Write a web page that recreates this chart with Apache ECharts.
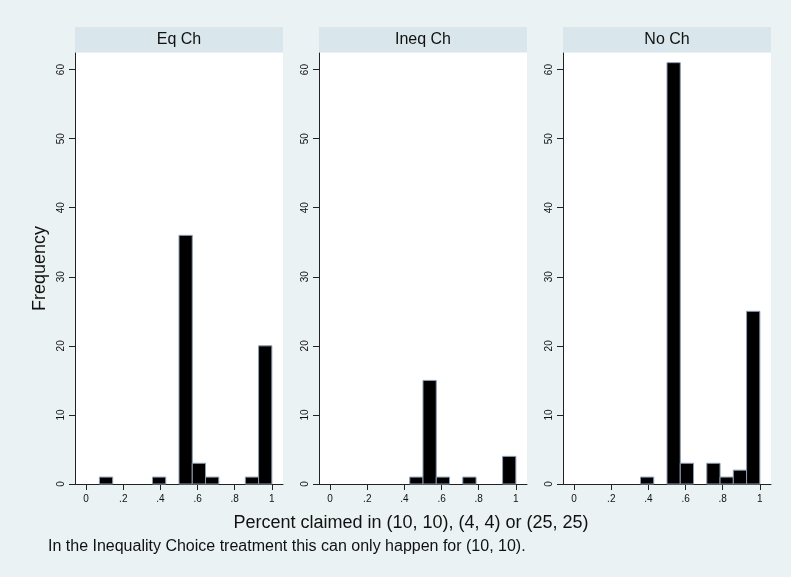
<!DOCTYPE html>
<html>
<head>
<meta charset="utf-8">
<script src="https://cdn.jsdelivr.net/npm/echarts@6/dist/echarts.min.js"></script>
<style>
  html, body { margin: 0; padding: 0; background: #EAF2F3; }
  #chart { width: 791px; height: 577px; }
</style>
</head>
<body>
<div id="chart"></div>
<script>
// histogram counts, 14 bins of width 1/14 on [0, 1]
var panelTitles = ['Eq Ch', 'Ineq Ch', 'No Ch'];
var eqCounts   = [0, 1, 0, 0, 0, 1, 0, 36, 3, 1, 0, 0, 1, 20];
var ineqCounts = [0, 0, 0, 0, 0, 0, 1, 15, 1, 0, 1, 0, 0, 4];
var noCounts   = [0, 0, 0, 0, 0, 1, 0, 61, 3, 0, 3, 1, 2, 25];
var xTickValues = [0, 0.2, 0.4, 0.6, 0.8, 1];
var xTickLabels = ['0', '.2', '.4', '.6', '.8', '1'];
var yTickValues = [0, 10, 20, 30, 40, 50, 60];
var nBins = 14;

var allCounts = [eqCounts, ineqCounts, noCounts];
var chart = echarts.init(document.getElementById('chart'));

var font = '"Liberation Sans", Arial, Helvetica, sans-serif';
var gridLeft = [75, 319, 563];
var gridW = 208;
var gridTop = 53;
var gridH = 431;

// turn counts into [start, end, count] rows, skip empty bins
function toBins(counts) {
    var rows = [];
    for (var i = 0; i < counts.length; i++) {
        if (counts[i] > 0) rows.push([i / nBins, (i + 1) / nBins, counts[i]]);
    }
    return rows;
}

function renderBar(params, api) {
    var p0 = api.coord([api.value(0), 0]);
    var p1 = api.coord([api.value(1), api.value(2)]);
    return {
        type: 'rect',
        shape: { x: p0[0], y: p1[1], width: p1[0] - p0[0], height: p0[1] - p1[1] },
        style: { fill: '#000000', stroke: '#8b9db1', lineWidth: 1 }
    };
}

var grids = [], xAxes = [], yAxes = [], series = [], graphics = [];
for (var k = 0; k < 3; k++) {
    grids.push({ left: gridLeft[k], top: gridTop, width: gridW, height: gridH,
        show: true, backgroundColor: '#ffffff', borderWidth: 0 });
    xAxes.push({
        gridIndex: k, type: 'value', min: -0.06, max: 1.06,
        axisLine: { show: true, onZero: false, lineStyle: { color: '#222', width: 1 } },
        axisTick: { show: true, length: 6, customValues: xTickValues, lineStyle: { color: '#222' } },
        axisLabel: { customValues: xTickValues, fontSize: 10, color: '#111', fontFamily: font, margin: 10,
            formatter: function (v) { return xTickLabels[xTickValues.indexOf(+v.toFixed(1))]; } },
        splitLine: { show: false }
    });
    yAxes.push({
        gridIndex: k, type: 'value', min: 0, max: 62.4,
        name: k === 0 ? 'Frequency' : '', nameLocation: 'middle', nameGap: 26,
        nameTextStyle: { fontSize: 18, color: '#111', fontFamily: font },
        axisLine: { show: true, onZero: false, lineStyle: { color: '#222', width: 1 } },
        axisTick: { show: true, length: 6, customValues: yTickValues, lineStyle: { color: '#222' } },
        axisLabel: { customValues: yTickValues, rotate: 90, fontSize: 10, color: '#111', fontFamily: font, margin: 9 },
        splitLine: { show: false }
    });
    series.push({
        type: 'custom', xAxisIndex: k, yAxisIndex: k,
        renderItem: renderBar, encode: { x: [0, 1], y: 2 },
        data: toBins(allCounts[k]), silent: true
    });
    // panel header strip
    graphics.push({ type: 'rect', left: gridLeft[k], top: 27,
        shape: { width: gridW, height: 25 }, style: { fill: '#D9E6EB' } });
    graphics.push({ type: 'text', x: gridLeft[k] + gridW / 2, y: 40,
        style: { text: panelTitles[k], fontSize: 16, fill: '#111', fontFamily: font,
            align: 'center', verticalAlign: 'middle' } });
}

graphics.push({ type: 'text', x: 411, y: 523,
    style: { text: 'Percent claimed in (10, 10), (4, 4) or (25, 25)', fontSize: 18, fill: '#111',
        fontFamily: font, align: 'center', verticalAlign: 'middle' } });
graphics.push({ type: 'text', x: 48, y: 547,
    style: { text: 'In the Inequality Choice treatment this can only happen for (10, 10).', fontSize: 16,
        fill: '#111', fontFamily: font, align: 'left', verticalAlign: 'middle' } });

var option = {
    backgroundColor: '#EAF2F3',
    animation: false,
    grid: grids,
    xAxis: xAxes,
    yAxis: yAxes,
    series: series,
    graphic: graphics
};
chart.setOption(option);
</script>
</body>
</html>
